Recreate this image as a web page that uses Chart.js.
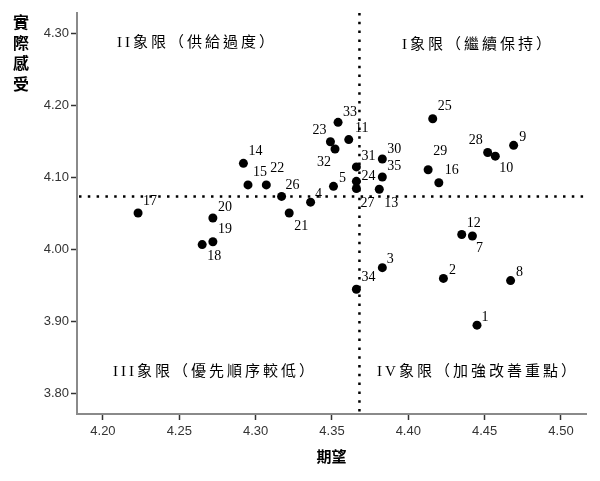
<!DOCTYPE html>
<html>
<head>
<meta charset="utf-8">
<script src="https://cdn.jsdelivr.net/npm/chart.js@4.4.1/dist/chart.umd.min.js"></script>
<style>
  body { margin: 0; background: #fff; }
  #wrap { width: 600px; height: 481px; }
</style>
</head>
<body>
<div id="wrap"><canvas id="quadChart" width="600" height="481"></canvas></div>
<script>
// item numbers (no. 6 is not visible in the picture)
const itemIds = [1, 2, 3, 4, 5, 7, 8, 9, 10, 11, 12, 13, 14, 15, 16, 17, 18, 19, 20, 21,
                 22, 23, 24, 25, 26, 27, 28, 29, 30, 31, 32, 33, 34, 35];
// 期望 (x)
const expectation = [4.445, 4.423, 4.383, 4.336, 4.351, 4.442, 4.467, 4.469, 4.457, 4.361,
                     4.435, 4.381, 4.292, 4.295, 4.420, 4.223, 4.265, 4.272, 4.272, 4.322,
                     4.307, 4.349, 4.366, 4.416, 4.317, 4.366, 4.452, 4.413, 4.383, 4.366,
                     4.352, 4.354, 4.366, 4.383];
// 實際感受 (y)
const perception = [3.895, 3.960, 3.975, 4.066, 4.088, 4.019, 3.957, 4.145, 4.130, 4.153,
                    4.021, 4.084, 4.120, 4.090, 4.093, 4.051, 4.007, 4.011, 4.044, 4.051,
                    4.090, 4.150, 4.095, 4.182, 4.074, 4.085, 4.135, 4.111, 4.126, 4.115,
                    4.140, 4.177, 3.945, 4.101];

const meanExpectation = 4.368;
const meanPerception = 4.074;

const xTicks = [4.20, 4.25, 4.30, 4.35, 4.40, 4.45, 4.50];
const yTicks = [3.80, 3.90, 4.00, 4.10, 4.20, 4.30];

const quadrantNames = ['II象限（供給過度）', 'I象限（繼續保持）', 'III象限（優先順序較低）', 'IV象限（加強改善重點）'];
const xTitle = '期望';
const yTitle = '實際感受';

// where each number sits next to its dot (pixels from dot centre)
const labelOffset = {
    1: [8, -8], 2: [9, -8], 3: [8, -8], 4: [8, -8], 5: [9, -8], 7: [7, 12], 8: [9, -8],
    9: [9, -8], 10: [11, 12], 11: [13, -11], 12: [12, -11], 13: [12, 14], 14: [12, -12],
    15: [12, -13], 16: [13, -12], 17: [12, -12], 18: [12, 12], 19: [12, -12], 20: [12, -11],
    21: [12, 13], 22: [11, -17], 23: [-11, -11], 24: [12, -5], 25: [12, -12], 26: [11, -11],
    27: [11, 15], 28: [-12, -12], 29: [12, -18], 30: [12, -10], 31: [12, -11], 32: [-11, 13],
    33: [12, -10], 34: [12, -12], 35: [12, -11]
};

const points = itemIds.map((id, i) => ({ x: expectation[i], y: perception[i], id: id }));

const quadrantPlugin = {
    id: 'quadrants',
    beforeDatasetsDraw(chart) {
        const { ctx, chartArea, scales } = chart;
        const vx = scales.x.getPixelForValue(meanExpectation);
        const hy = scales.y.getPixelForValue(meanPerception);
        ctx.save();
        ctx.strokeStyle = '#000';
        ctx.lineWidth = 2.5;
        ctx.setLineDash([2.5, 6.3]);
        ctx.beginPath();
        ctx.moveTo(vx, chartArea.top);
        ctx.lineTo(vx, chartArea.bottom);
        ctx.moveTo(chartArea.left + 2, hy);
        ctx.lineTo(chartArea.right, hy);
        ctx.stroke();
        ctx.restore();
    },
    afterDatasetsDraw(chart) {
        const { ctx, chartArea } = chart;
        const meta = chart.getDatasetMeta(0);
        ctx.save();
        ctx.fillStyle = '#000';
        ctx.textAlign = 'center';
        ctx.textBaseline = 'middle';

        // point numbers
        ctx.font = "14px 'Liberation Serif', 'Times New Roman', serif";
        meta.data.forEach((el, i) => {
            const id = itemIds[i];
            const off = labelOffset[id] || [10, -10];
            ctx.fillText(String(id), el.x + off[0], el.y + off[1]);
        });

        // quadrant names
        ctx.font = "15px 'Liberation Serif', 'Noto Sans CJK TC', serif";
        ctx.letterSpacing = '3px';
        const L = chartArea.left, T = chartArea.top, B = chartArea.bottom;
        ctx.fillText(quadrantNames[0], L + 120, T + 30);
        ctx.fillText(quadrantNames[1], L + 401, T + 32);
        ctx.fillText(quadrantNames[2], L + 138, B - 42);
        ctx.fillText(quadrantNames[3], L + 401, B - 42);
        ctx.letterSpacing = '0px';

        // axis titles
        ctx.font = "bold 15px 'Noto Sans CJK TC', sans-serif";
        ctx.fillText(xTitle, (chartArea.left + chartArea.right) / 2, 456);
        ctx.font = "bold 16px 'Noto Sans CJK TC', sans-serif";
        Array.from(yTitle).forEach((ch, k) => {
            ctx.fillText(ch, 21, 22 + k * 20.5);
        });
        ctx.restore();
    }
};

const ctx = document.getElementById('quadChart').getContext('2d');
new Chart(ctx, {
    type: 'scatter',
    data: {
        datasets: [{
            data: points,
            backgroundColor: '#000',
            borderWidth: 0,
            pointRadius: 4.5,
            pointHoverRadius: 4.5
        }]
    },
    options: {
        responsive: false,
        animation: false,
        devicePixelRatio: 1,
        events: [],
        layout: { padding: { top: 13, right: 14, left: 0, bottom: 0 } },
        plugins: { legend: { display: false }, tooltip: { enabled: false } },
        scales: {
            x: {
                type: 'linear',
                min: 4.183,
                max: 4.5164,
                afterFit(scale) { scale.height = 67; },
                afterBuildTicks(scale) { scale.ticks = xTicks.map(v => ({ value: v })); },
                border: { display: true, color: '#8a8a8a', width: 2 },
                grid: { drawOnChartArea: false, drawTicks: true, tickLength: 6, tickColor: '#333', tickWidth: 1.5 },
                ticks: {
                    padding: 4,
                    color: '#333',
                    font: { family: "'Liberation Sans', Arial, sans-serif", size: 13 },
                    callback: v => Number(v).toFixed(2)
                }
            },
            y: {
                type: 'linear',
                min: 3.7715,
                max: 4.329,
                afterFit(scale) { scale.width = 77; },
                afterBuildTicks(scale) { scale.ticks = yTicks.map(v => ({ value: v })); },
                border: { display: true, color: '#8a8a8a', width: 2 },
                grid: { drawOnChartArea: false, drawTicks: true, tickLength: 6, tickColor: '#333', tickWidth: 1.5 },
                ticks: {
                    padding: 2,
                    color: '#333',
                    font: { family: "'Liberation Sans', Arial, sans-serif", size: 13 },
                    callback: v => Number(v).toFixed(2)
                }
            }
        }
    },
    plugins: [quadrantPlugin]
});
</script>
</body>
</html>
